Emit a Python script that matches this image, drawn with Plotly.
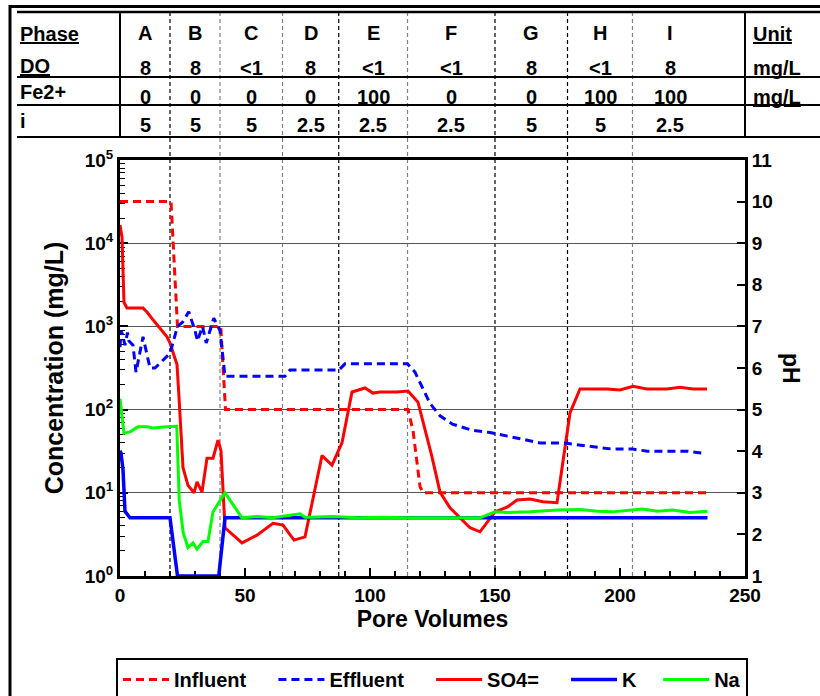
import plotly.graph_objects as go

# ---------------- data ----------------
# Influent / effluent pH (right axis)
influent_pv = [0, 20.4, 23, 40.3, 42.2, 115.2, 117.2, 118.8, 120, 121.2, 235]
influent_ph = [10, 10, 7, 7, 5, 5, 4.5, 3.7, 3.15, 3, 3]

effluent_pv = [0, 0.4, 1, 2, 3, 3.6, 5.2, 6.4, 9.2, 12, 14, 20, 23, 25, 27.5, 30, 31, 33, 34.5,
               37.5, 40, 42, 66, 68, 87.5, 90, 115, 118, 124, 128, 133, 141, 148, 152, 160,
               168, 177, 184, 197, 205, 211, 221, 227, 233]
effluent_ph = [6.5, 6.9, 6.8, 6.55, 6.85, 6.65, 6.55, 5.9, 6.75, 6.0, 6.0, 6.35, 7.0, 7.1, 7.35,
               6.9, 6.65, 7.0, 6.6, 7.2, 6.9, 5.8, 5.8, 5.95, 5.95, 6.1, 6.1, 5.9, 5.15, 4.85,
               4.65, 4.5, 4.45, 4.4, 4.3, 4.2, 4.2, 4.15, 4.05, 4.05, 4.0, 4.0, 4.0, 3.95]

# Effluent concentrations (left axis, mg/L)
so4_pv = [0, 0.8, 1.6, 2.8, 9.2, 10.8, 13.2, 18.8, 20, 22.8, 23.6, 25.2, 27.2, 29.6, 30.8, 32.8,
          34.8, 37.2, 39.2, 40.4, 42, 48.8, 54.8, 61.2, 65.2, 69.6, 74, 80.8, 84.8, 88.8, 92.8,
          98, 101.2, 104, 110.8, 115.2, 119.2, 124.8, 128, 132, 140, 144, 150, 154.8, 158.8,
          164, 169.2, 174.8, 180, 184, 194.8, 200, 205.2, 210.8, 218.8, 224, 229.2, 234.8]
so4_mgl = [16600, 11800, 1950, 1660, 1660, 1490, 1200, 750, 630, 347, 141, 20, 12.3, 10, 13.5,
           10.2, 26, 26, 43, 32, 3.8, 2.5, 3.1, 4.3, 4.1, 2.7, 2.95, 28, 21.5, 40, 163, 182, 158,
           163, 163, 167, 123, 27, 10.2, 6.6, 3.8, 3.4, 5.9, 6.7, 8.2, 8.4, 7.8, 7.6, 91, 177,
           177, 172, 191, 177, 177, 185, 177, 177]

k_pv = [0, 0.4, 1.2, 2, 4, 20, 23, 39.5, 42, 100, 235]
k_mgl = [32, 30, 19, 6, 5, 5, 1, 1, 5, 5, 5]

na_pv = [0, 1.6, 4, 7.2, 11, 13, 19, 22.7, 23.7, 25.3, 27.2, 29.2, 30.8, 33.2, 35.2, 37.2, 42,
         48.8, 55, 61, 72, 74, 76, 85, 95, 105, 115, 125, 135, 144, 150, 155, 164, 175, 184,
         191, 197, 203, 209, 215, 221, 228, 235]
na_mgl = [135, 52, 54, 62, 62, 60, 62, 63, 8.1, 3.3, 2.2, 2.5, 2.1, 2.6, 2.6, 5.9, 10, 5.0, 5.2,
          5.0, 5.6, 5.1, 5.1, 5.2, 5.0, 5.1, 5.0, 5.0, 5.0, 5.0, 5.9, 5.8, 5.9, 6.2, 6.3, 6.0,
          5.9, 6.2, 6.4, 6.0, 6.2, 5.8, 6.0]

# Experimental phases
phase_names = ["A", "B", "C", "D", "E", "F", "G", "H", "I"]
phase_bounds = [0, 20, 40, 65, 87.5, 115, 150, 179, 205, 235]
do_row = ["8", "8", "&lt;1", "8", "&lt;1", "&lt;1", "8", "&lt;1", "8"]
fe_row = ["0", "0", "0", "0", "100", "0", "0", "100", "100"]
i_row = ["5", "5", "5", "2.5", "2.5", "2.5", "5", "5", "2.5"]
unit_col = ["Unit", "mg/L", "mg/L", ""]

conc_ticks = [1, 10, 100, 1000, 10000, 100000]
conc_labels = ["10<sup>%d</sup>" % i for i in range(6)]

# ---------------- layout helpers ----------------
W, H = 820, 696
L, R, T, B = 120, 75, 160, 120
PW, PH = W - L - R, H - T - B
FONT = "Liberation Sans, Arial, sans-serif"
NB = "\u00a0"


def pxx(x):
    return (x - L) / PW


def pxy(y):
    return (H - B - y) / PH


def bold(size):
    return dict(family=FONT, size=size, color="black", weight="bold")


dash_pat = "8px,5px"
legend_pad = [4, 4, 4, 3, 0]

traces = [
    (influent_pv, influent_ph, "y2", "Influent", dict(color="#FF0000", width=3, dash=dash_pat)),
    (effluent_pv, effluent_ph, "y2", "Effluent", dict(color="#0000FF", width=3, dash=dash_pat)),
    (so4_pv, so4_mgl, "y", "SO4=", dict(color="#FF0000", width=3)),
    (k_pv, k_mgl, "y", "K", dict(color="#0000FF", width=3.5)),
    (na_pv, na_mgl, "y", "Na", dict(color="#00FF00", width=3)),
]

fig = go.Figure()
for (xs, ys, ax, name, ln), pad in zip(traces, legend_pad):
    fig.add_trace(go.Scatter(x=xs, y=ys, yaxis=ax, name=name + NB * pad, mode="lines", line=ln))

shapes = []
# phase boundaries, running up through the table
line_cols = ["black", "#808080", "#808080", "black", "#808080", "black", "black", "#808080"]
for b, c in zip(phase_bounds[1:-1], line_cols):
    shapes.append(dict(type="line", xref="x", yref="paper", x0=b, x1=b, y0=0, y1=pxy(12),
                       line=dict(color=c, width=1.2, dash="4px,3px"), layer="between"))
# table rules
for yy in (77, 105, 137):
    shapes.append(dict(type="line", xref="paper", yref="paper", x0=pxx(17), x1=pxx(822),
                       y0=pxy(yy), y1=pxy(yy), line=dict(color="black", width=2)))
shapes.append(dict(type="line", xref="paper", yref="paper", x0=pxx(17), x1=pxx(822),
                   y0=pxy(12), y1=pxy(12), line=dict(color="black", width=2.5)))
shapes.append(dict(type="line", xref="paper", yref="paper", x0=pxx(9), x1=pxx(822),
                   y0=pxy(6.5), y1=pxy(6.5), line=dict(color="black", width=3)))
for xx in (0, 1):
    shapes.append(dict(type="line", xref="paper", yref="paper", x0=xx, x1=xx,
                       y0=pxy(12), y1=pxy(137), line=dict(color="black", width=2)))
# outer frame
shapes.append(dict(type="line", xref="paper", yref="paper", x0=pxx(10), x1=pxx(10),
                   y0=pxy(5), y1=pxy(700), line=dict(color="black", width=3)))

annotations = []
row_labels = ["<u>Phase</u>", "<u>DO</u>", "Fe2+", "i"]
label_y = [34, 66, 92, 121]
value_y = [33, 68, 97, 125]
rows = [phase_names, do_row, fe_row, i_row]
mids = [(a + b) / 2 for a, b in zip(phase_bounds[:-1], phase_bounds[1:])]
for lab, ly, vy, vals, unit in zip(row_labels, label_y, value_y, rows, unit_col):
    annotations.append(dict(text=lab, xref="paper", yref="paper", x=pxx(18), y=pxy(ly),
                            xanchor="left", yanchor="middle", showarrow=False, font=bold(20)))
    for m, v in zip(mids, vals):
        annotations.append(dict(text=v, xref="x", yref="paper", x=m, y=pxy(vy),
                                xanchor="center", yanchor="middle", showarrow=False,
                                font=bold(20)))
    if unit:
        annotations.append(dict(text="<u>%s</u>" % unit, xref="paper", yref="paper",
                                x=pxx(751), y=pxy(ly if unit == "Unit" else vy),
                                xanchor="left", yanchor="middle",
                                showarrow=False, font=bold(20)))
annotations.append(dict(text="pH", xref="paper", yref="paper", x=pxx(791), y=pxy(368),
                        xanchor="center", yanchor="middle",
                        textangle=90, showarrow=False, font=bold(23)))

minor_vals = [m * 10 ** e for e in range(5) for m in range(2, 10)]

fig.update_layout(
    width=W, height=H,
    margin=dict(l=L, r=R, t=T, b=B, pad=0, autoexpand=False),
    paper_bgcolor="white", plot_bgcolor="white",
    font=bold(19),
    showlegend=True,
    legend=dict(orientation="h", x=pxx(116), y=pxy(658), xanchor="left", yanchor="top",
                bordercolor="black", borderwidth=2, bgcolor="white", font=bold(20),
                itemwidth=46),
    xaxis=dict(range=[0, 250], tick0=0, dtick=50, ticks="inside", ticklen=8, tickwidth=1.5,
               tickcolor="black", showline=True, linewidth=3, linecolor="black", mirror=True,
               showgrid=False, zeroline=False, tickfont=bold(19), layer="below traces",
               minor=dict(dtick=10, ticks="inside", ticklen=5, tickwidth=1.5,
                          tickcolor="black", showgrid=False),
               title=dict(text="Pore Volumes", font=bold(23), standoff=0)),
    yaxis=dict(type="log", range=[0, 5], tickmode="array", tickvals=conc_ticks,
               ticktext=conc_labels, ticks="inside", ticklen=8, tickwidth=1.5,
               tickcolor="black", showline=True, linewidth=3, linecolor="black",
               showgrid=True, gridcolor="#555555", gridwidth=1.3, zeroline=False,
               tickfont=bold(19), layer="below traces",
               minor=dict(tickmode="array", tickvals=minor_vals, ticks="inside", ticklen=5,
                          tickwidth=1.2, tickcolor="black", showgrid=False),
               title=dict(text="Concentration (mg/L)", font=bold(25), standoff=14)),
    yaxis2=dict(overlaying="y", side="right", range=[1, 11], tick0=1, dtick=1,
                ticks="inside", ticklen=8, tickwidth=1.5, tickcolor="black", showline=True,
                linewidth=3, linecolor="black", showgrid=False, zeroline=False,
                tickfont=bold(19)),
    shapes=shapes,
    annotations=annotations,
)

fig.write_html("out.html")
